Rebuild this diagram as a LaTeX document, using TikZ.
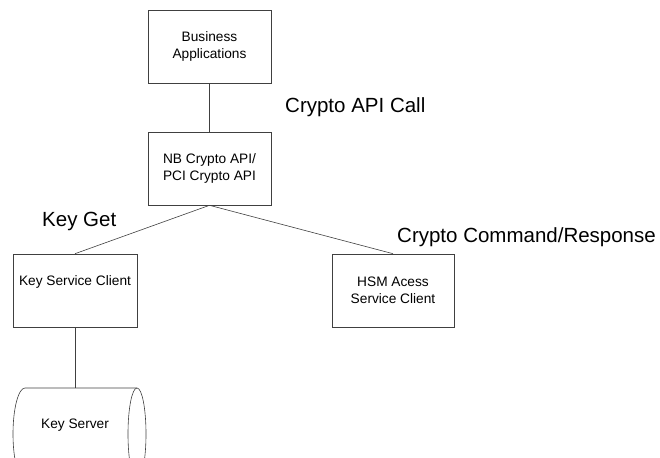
\documentclass[tikz,border=0pt]{standalone}
\usepackage{fontspec}
\setmainfont{Liberation Sans}
\begin{document}
\begin{tikzpicture}[x=1pt,y=-1pt,
  box/.style={draw=black!75, line width=0.6pt, inner sep=0pt, align=center,
    font=\fontsize{13.7}{17}\selectfont},
  txt/.style={inner sep=0pt, align=center, font=\fontsize{13.7}{17}\selectfont},
  biglabel/.style={inner sep=0pt, anchor=west, font=\fontsize{20.5}{24}\selectfont},
  conn/.style={draw=black!75, line width=0.6pt}]
\useasboundingbox (0,0) rectangle (660,457);
\node[box, minimum width=123pt, minimum height=73pt] (ba) at (209.5,46.5) {Business\\Applications};
\node[box, minimum width=123pt, minimum height=73pt] (nb) at (209.5,168.5) {NB Crypto API/\\PCI Crypto API};
\node[box, minimum width=124pt, minimum height=73pt] (ksc) at (75,290.5) {};
\node[txt] (ksct) at (75,282) {Key Service Client};
\node[box, minimum width=122pt, minimum height=73pt] (hsm) at (393,290.5) {HSM Acess\\Service Client};
% Key Server cylinder (cut off by the lower edge)
\begin{scope}
\clip (0,0) rectangle (660,457);
\draw[conn] (137,388) -- (25,388) arc[start angle=270, end angle=90, x radius=12, y radius=46] -- (137,480);
\draw[conn] (137,434) ellipse[x radius=9, y radius=46];
\end{scope}
\coordinate (kstop) at (75,388);
\node[txt] (kst) at (75,425) {Key Server};
\draw[conn] (ba.south) -- (nb.north);
\draw[conn] (nb.south) -- (ksc.north);
\draw[conn] (nb.south) -- (hsm.north);
\draw[conn] (ksc.south) -- (kstop);
\node[biglabel] (l1) at (285,107) {Crypto API Call};
\node[biglabel] (l2) at (42,221) {Key Get};
\node[biglabel] (l3) at (397,237) {Crypto Command/Response};
\end{tikzpicture}
\end{document}
